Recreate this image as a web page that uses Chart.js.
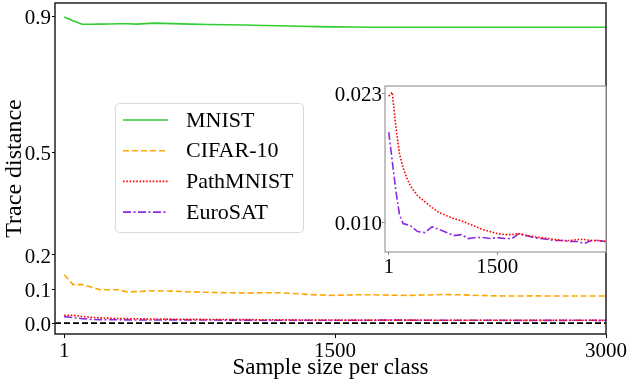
<!DOCTYPE html>
<html>
<head>
<meta charset="utf-8">
<script src="https://cdn.jsdelivr.net/npm/chart.js@4"></script>
<style>
  body { margin: 0; background: #fff; }
  #wrap { position: relative; width: 631px; height: 383px; }
  #mainChart { position: absolute; left: 0; top: 0; }
  #insetChart { position: absolute; left: 330px; top: 80px; }
</style>
</head>
<body>
<div id="wrap">
  <canvas id="mainChart" width="631" height="383"></canvas>
  <canvas id="insetChart" width="290" height="200"></canvas>
</div>
<script>
// sample sizes per class (x values)
const sampleSizes = [1, 50, 100, 150, 200, 250, 300, 350, 400, 500, 600, 700, 800, 900, 1000,
  1100, 1200, 1300, 1400, 1500, 1600, 1700, 1800, 1900, 2000, 2100, 2200, 2300, 2400, 2500,
  2600, 2700, 2800, 2900, 3000];

const mnist = [0.899, 0.888, 0.8775, 0.8778, 0.878, 0.8785, 0.8792, 0.879, 0.878, 0.881, 0.8795,
  0.878, 0.877, 0.8762, 0.8752, 0.874, 0.873, 0.8718, 0.8705, 0.870, 0.8695, 0.869, 0.8688, 0.869,
  0.8686, 0.8688, 0.869, 0.8688, 0.8686, 0.8688, 0.869, 0.8688, 0.8688, 0.869, 0.8688];

const cifar10 = [0.142, 0.113, 0.113, 0.106, 0.098, 0.098, 0.098, 0.0915, 0.0925, 0.095, 0.094,
  0.0915, 0.0905, 0.0892, 0.0885, 0.089, 0.089, 0.086, 0.0825, 0.0815, 0.083, 0.0833, 0.082, 0.0814,
  0.0825, 0.084, 0.083, 0.081, 0.080, 0.0795, 0.080, 0.0795, 0.0795, 0.0795, 0.0795];

const pathMnist = [0.0227, 0.0231, 0.0196, 0.0169, 0.0155, 0.0145, 0.0137, 0.0132, 0.0127, 0.0121,
  0.0115, 0.0110, 0.0107, 0.0104, 0.0102, 0.0099, 0.0096, 0.0093, 0.0091, 0.0089, 0.0088, 0.0088,
  0.0089, 0.0087, 0.0086, 0.0085, 0.0084, 0.0083, 0.0082, 0.0082, 0.0083, 0.0083, 0.0082, 0.0082, 0.0081];

const euroSat = [0.0191, 0.0162, 0.0132, 0.0108, 0.0099, 0.0098, 0.0097, 0.0094, 0.0091, 0.0090,
  0.0096, 0.0093, 0.0090, 0.0087, 0.0088, 0.0084, 0.0085, 0.0085, 0.0084, 0.0085, 0.0084, 0.0084,
  0.0089, 0.0087, 0.0085, 0.0084, 0.0083, 0.0082, 0.0082, 0.0081, 0.0081, 0.0079, 0.0082, 0.0082, 0.0081];

const seriesNames = ['MNIST', 'CIFAR-10', 'PathMNIST', 'EuroSAT'];
const xTicks = [1, 1500, 3000];
const yTicks = [0.0, 0.1, 0.2, 0.5, 0.9];
const insetXTicks = [1, 1500];
const insetYTicks = [0.010, 0.023];
const baselineValue = 0;

const seriesValues = [mnist, cifar10, pathMnist, euroSat];
const seriesColors = ['#32cd32', '#ffa500', '#ff0000', '#8a2be2'];
const seriesDashes = [[], [6, 3], [1.6, 1.7], [8, 2.5, 2, 2.5]];

Chart.defaults.font.family = "'Liberation Serif', 'Times New Roman', serif";
Chart.defaults.color = '#000';

function toPoints(values) {
  return sampleSizes.map((x, i) => ({ x: x, y: values[i] }));
}

function makeDataset(i) {
  return {
    label: seriesNames[i],
    data: toPoints(seriesValues[i]),
    borderColor: seriesColors[i],
    borderDash: seriesDashes[i],
    borderWidth: 1.6,
    pointRadius: 0,
    tension: 0,
    fill: false
  };
}

function fixBox(size) {
  return function (scale) {
    if (scale.isHorizontal()) scale.height = size;
    else scale.width = size;
    scale.paddingLeft = 0;
    scale.paddingRight = 0;
    scale.paddingTop = 0;
    scale.paddingBottom = 0;
  };
}

function setTicks(list) {
  return function (scale) {
    scale.ticks = list.map(v => ({ value: v }));
  };
}

// box around the plotting area
function framePlugin(color, width) {
  return {
    id: 'frame',
    beforeDraw(chart) {
      const a = chart.chartArea;
      const ctx = chart.ctx;
      ctx.save();
      ctx.fillStyle = '#fff';
      ctx.fillRect(a.left, a.top, a.right - a.left, a.bottom - a.top);
      ctx.restore();
    },
    afterDatasetsDraw(chart) {
      const a = chart.chartArea;
      const ctx = chart.ctx;
      ctx.save();
      ctx.strokeStyle = color;
      ctx.lineWidth = width;
      ctx.strokeRect(a.left, a.top, a.right - a.left, a.bottom - a.top);
      ctx.restore();
    }
  };
}

// black dashed line at y = 0
const baselinePlugin = {
  id: 'baseline',
  beforeDatasetsDraw(chart) {
    const a = chart.chartArea;
    const y = chart.scales.y.getPixelForValue(baselineValue);
    const ctx = chart.ctx;
    ctx.save();
    ctx.strokeStyle = '#000';
    ctx.lineWidth = 1.6;
    ctx.setLineDash([6, 3]);
    ctx.beginPath();
    ctx.moveTo(a.left, y);
    ctx.lineTo(a.right, y);
    ctx.stroke();
    ctx.restore();
  }
};

const legendPlugin = {
  id: 'boxLegend',
  afterDraw(chart) {
    const ctx = chart.ctx;
    const bx = 115, by = 103, bw = 188, bh = 129;
    ctx.save();
    ctx.fillStyle = 'rgba(255,255,255,0.85)';
    ctx.strokeStyle = '#d9d9d9';
    ctx.lineWidth = 1;
    ctx.beginPath();
    ctx.roundRect(bx + 0.5, by + 0.5, bw, bh, 4);
    ctx.fill();
    ctx.stroke();
    ctx.font = "22px 'Liberation Serif', serif";
    ctx.textBaseline = 'middle';
    ctx.fillStyle = '#000';
    chart.data.datasets.forEach((ds, i) => {
      const y = by + 17 + i * 30.7;
      ctx.strokeStyle = ds.borderColor;
      ctx.lineWidth = 1.6;
      ctx.setLineDash(ds.borderDash);
      ctx.beginPath();
      ctx.moveTo(123, y);
      ctx.lineTo(168, y);
      ctx.stroke();
      ctx.setLineDash([]);
      ctx.fillText(ds.label, 186, y + 1);
    });
    ctx.restore();
  }
};

new Chart(document.getElementById('mainChart'), {
  type: 'line',
  data: { datasets: [0, 1, 2, 3].map(makeDataset) },
  options: {
    responsive: false,
    animation: false,
    devicePixelRatio: 1,
    layout: { padding: { top: 3, right: 25, left: 0, bottom: 0 } },
    plugins: { legend: { display: false }, tooltip: { enabled: false } },
    scales: {
      x: {
        type: 'linear', min: -50, max: 3000,
        afterBuildTicks: setTicks(xTicks),
        afterFit: fixBox(49),
        border: { display: false },
        grid: { drawOnChartArea: false, drawTicks: true, tickLength: 4, tickColor: '#000' },
        ticks: { font: { size: 21 }, color: '#000', padding: 1, maxRotation: 0, autoSkip: false,
          callback: v => String(v) },
        title: { display: true, text: 'Sample size per class', font: { size: 23 }, color: '#000',
          padding: { top: 0, bottom: 1 } }
      },
      y: {
        type: 'linear', min: -0.032, max: 0.94,
        afterBuildTicks: setTicks(yTicks),
        afterFit: fixBox(55),
        border: { display: false },
        grid: { drawOnChartArea: false, drawTicks: true, tickLength: 3, tickColor: '#000' },
        ticks: { font: { size: 21 }, color: '#000', padding: 1, autoSkip: false, labelOffset: 2,
          callback: v => v.toFixed(1) },
        title: { display: true, text: 'Trace distance', font: { size: 24 }, color: '#000',
          padding: { top: 0, bottom: 0 } }
      }
    }
  },
  plugins: [framePlugin('#222', 1.5), baselinePlugin, legendPlugin]
});

new Chart(document.getElementById('insetChart'), {
  type: 'line',
  data: { datasets: [2, 3].map(makeDataset) },
  options: {
    responsive: false,
    animation: false,
    devicePixelRatio: 1,
    layout: { padding: { top: 6, right: 14, left: 0, bottom: 0 } },
    plugins: { legend: { display: false }, tooltip: { enabled: false } },
    scales: {
      x: {
        type: 'linear', min: -50, max: 3000,
        afterBuildTicks: setTicks(insetXTicks),
        afterFit: fixBox(28),
        border: { display: false },
        grid: { drawOnChartArea: false, drawTicks: true, tickLength: 3, tickColor: '#888' },
        ticks: { font: { size: 21 }, color: '#000', padding: 0, maxRotation: 0, autoSkip: false,
          callback: v => String(v) }
      },
      y: {
        type: 'linear', min: 0.00705, max: 0.02373,
        afterBuildTicks: setTicks(insetYTicks),
        afterFit: fixBox(55),
        border: { display: false },
        grid: { drawOnChartArea: false, drawTicks: true, tickLength: 3, tickColor: '#888' },
        ticks: { font: { size: 21 }, color: '#000', padding: 0, autoSkip: false, labelOffset: 2,
          callback: v => v.toFixed(3) }
      }
    }
  },
  plugins: [framePlugin('#999', 1.2)]
});
</script>
</body>
</html>
